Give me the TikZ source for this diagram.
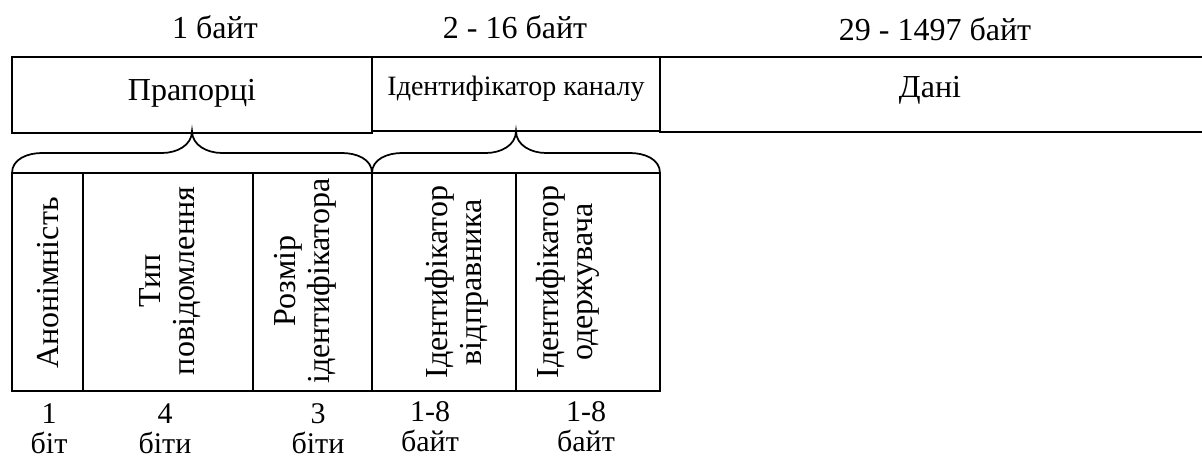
\documentclass[tikz,border=0pt]{standalone}
\usepackage{fontspec}
\setmainfont{Liberation Serif}
\usepackage{tikz}

\tikzset{
  field/.style={draw, line width=1.3pt},
  lbl/.style={inner sep=0pt, font=\fontsize{24}{28}\selectfont},
  small/.style={inner sep=0pt, font=\fontsize{21}{24}\selectfont},
  vlbl/.style={lbl, rotate=90, align=center, font=\fontsize{24}{25.5}\selectfont},
  size/.style={lbl, align=center, font=\fontsize{22.5}{22.5}\selectfont},
  brace/.style={draw, line width=1.3pt}
}

\begin{document}
\begin{tikzpicture}[x=0.75pt, y=-0.75pt]
    \useasboundingbox (0,0) rectangle (1202,459);

    % header sizes
    \node[lbl] (sz1) at (215,27) {1 байт};
    \node[lbl] (sz2) at (515,27) {2 - 16 байт};
    \node[lbl] (sz3) at (935,29) {29 - 1497 байт};

    % top row
    \draw[field] (12,57) rectangle (372,133);
    \draw[field] (372,57) rectangle (660,131);
    \draw[field] (660,57) rectangle (1206,132);
    \node[lbl] (flags) at (192,93) {Прапорці};
    \node[small] (chan) at (516,89) {Ідентифікатор каналу};
    \node[lbl] (data) at (930,90) {Дані};

    % braces
    \coordinate (ftip) at (192,131);
    \coordinate (ctip) at (516,131);
    \draw[brace] (12,173) to[out=90,in=180] (42,153) -- (162,153)
        to[out=0,in=-90] (ftip) to[out=-90,in=180] (222,153) -- (342,153)
        to[out=0,in=90] (372,173);
    \draw[brace] (372,173) to[out=90,in=180] (402,153) -- (486,153)
        to[out=0,in=-90] (ctip) to[out=-90,in=180] (546,153) -- (630,153)
        to[out=0,in=90] (660,173);

    % bottom row
    \foreach \a/\b in {12/83, 83/253, 253/372, 372/516, 516/660}
        \draw[field] (\a,173) rectangle (\b,391);
    \node[vlbl] (anon) at (48,283) {Анонімність};
    \node[vlbl] (mtype) at (170,281) {Тип\\повідомлення};
    \node[vlbl] (idsize) at (305,281) {Розмір\\ідентифікатора};
    \node[vlbl] (sender) at (457,282) {Ідентифікатор\\відправника};
    \node[vlbl] (recv) at (568,282) {Ідентифікатор\\одержувача};

    % field lengths
    \node[size] (len1) at (49,429) {1\\біт};
    \node[size] (len2) at (165,429) {4\\біти};
    \node[size] (len3) at (318,429) {3\\біти};
    \node[size] (len4) at (430,427) {1-8\\байт};
    \node[size] (len5) at (586,427) {1-8\\байт};
\end{tikzpicture}
\end{document}
